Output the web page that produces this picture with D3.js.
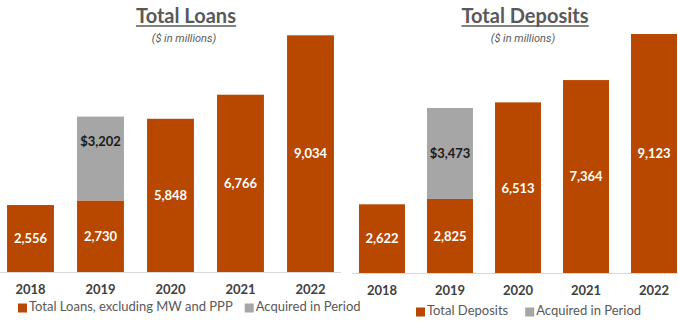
<!DOCTYPE html>
<html>
<head>
<meta charset="utf-8">
<script src="https://cdn.jsdelivr.net/npm/d3@7/dist/d3.min.js"></script>
<style>
  html, body { margin: 0; padding: 0; background: #ffffff; }
  svg { display: block; }
</style>
</head>
<body>
<svg id="chart" width="678" height="322"></svg>
<script>
// Years shown on both panels
const years = ["2018", "2019", "2020", "2021", "2022"];

// Total loans, excluding MW and PPP ($ in millions)
const loansBase = [2556, 2730, 5848, 6766, 9034];
// Loans acquired in period
const loansAcquired = [0, 3202, 0, 0, 0];

// Total deposits ($ in millions)
const depositsBase = [2622, 2825, 6513, 7364, 9123];
// Deposits acquired in period
const depositsAcquired = [0, 3473, 0, 0, 0];

const legendLoans = ["Total Loans, excluding MW and PPP", "Acquired in Period"];
const legendDeposits = ["Total Deposits", "Acquired in Period"];

const ORANGE = "#B84700";
const GRAY = "#A6A6A6";
const TEXT = "#595959";
const FONT = "Lato, 'Open Sans', sans-serif";

const svg = d3.select("#chart");

const panels = [
  {
    title: "Total Loans", titleX: 186,
    base: loansBase, acquired: loansAcquired, legend: legendLoans,
    xRange: [-4.5, 345.5], pad: 0.33, baseline: 272, top: 10,
    axis: [0, 341], legendX: 18, legendGap: 12, legendY: 308, labelY: 291,
    acquiredLabelShift: -17
  },
  {
    title: "Total Deposits", titleX: 525,
    base: depositsBase, acquired: depositsAcquired, legend: legendDeposits,
    xRange: [348, 688], pad: 0.324, baseline: 273, top: 11,
    axis: [352, 678], legendX: 416, legendGap: 17, legendY: 312, labelY: 292,
    acquiredLabelShift: 0
  }
];

const fmt = d3.format(",");

panels.forEach(p => {
  const g = svg.append("g");

  const x = d3.scaleBand()
    .domain(years)
    .range(p.xRange)
    .paddingInner(p.pad)
    .paddingOuter(p.pad / 2);

  const y = d3.scaleLinear()
    .domain([0, 10000])
    .range([p.baseline, p.top]);

  // Title with underline
  const title = g.append("text")
    .attr("x", p.titleX)
    .attr("y", 23)
    .attr("text-anchor", "middle")
    .attr("font-family", FONT)
    .attr("font-weight", 700)
    .attr("font-size", 20)
    .attr("fill", TEXT)
    .text(p.title);
  const tb = title.node().getBBox();
  g.append("line")
    .attr("x1", tb.x).attr("x2", tb.x + tb.width)
    .attr("y1", 26).attr("y2", 26)
    .attr("stroke", TEXT).attr("stroke-width", 1.5);

  g.append("text")
    .attr("x", p.titleX - 2)
    .attr("y", 42)
    .attr("text-anchor", "middle")
    .attr("font-family", "Roboto, sans-serif")
    .attr("font-style", "italic")
    .attr("font-size", 11)
    .attr("fill", TEXT)
    .text("($ in millions)");

  // Baseline
  g.append("line")
    .attr("x1", p.axis[0]).attr("x2", p.axis[1])
    .attr("y1", p.baseline + 0.5).attr("y2", p.baseline + 0.5)
    .attr("stroke", "#D9D9D9").attr("stroke-width", 1);

  const rows = years.map((yr, i) => ({ yr, base: p.base[i], acq: p.acquired[i] }));

  // Base bars
  g.selectAll("rect.base").data(rows).join("rect")
    .attr("class", "base")
    .attr("x", d => x(d.yr))
    .attr("width", x.bandwidth())
    .attr("y", d => y(d.base))
    .attr("height", d => y(0) - y(d.base))
    .attr("fill", ORANGE);

  // Acquired segments stacked on top
  const acqRows = rows.filter(d => d.acq > 0);
  g.selectAll("rect.acq").data(acqRows).join("rect")
    .attr("class", "acq")
    .attr("x", d => x(d.yr))
    .attr("width", x.bandwidth())
    .attr("y", d => y(d.base + d.acq))
    .attr("height", d => y(d.base) - y(d.base + d.acq))
    .attr("fill", GRAY);

  // Value labels
  g.selectAll("text.val").data(rows).join("text")
    .attr("class", "val")
    .attr("x", d => x(d.yr) + x.bandwidth() / 2)
    .attr("y", d => (y(0) + y(d.base)) / 2 + 1.5)
    .attr("text-anchor", "middle")
    .attr("dominant-baseline", "middle")
    .attr("font-family", FONT)
    .attr("font-weight", 700)
    .attr("font-size", 13)
    .attr("fill", "#ffffff")
    .text(d => fmt(d.base));

  g.selectAll("text.acqval").data(acqRows).join("text")
    .attr("class", "acqval")
    .attr("x", d => x(d.yr) + x.bandwidth() / 2)
    .attr("y", d => (y(d.base) + y(d.base + d.acq)) / 2 + 1 + p.acquiredLabelShift)
    .attr("text-anchor", "middle")
    .attr("dominant-baseline", "middle")
    .attr("font-family", FONT)
    .attr("font-weight", 700)
    .attr("font-size", 13)
    .attr("fill", "#1a1a1a")
    .text(d => "$" + fmt(d.acq));

  // Category axis labels
  g.selectAll("text.cat").data(years).join("text")
    .attr("class", "cat")
    .attr("x", d => x(d) + x.bandwidth() / 2)
    .attr("y", p.labelY)
    .attr("text-anchor", "middle")
    .attr("dominant-baseline", "middle")
    .attr("font-family", FONT)
    .attr("font-weight", 700)
    .attr("font-size", 13)
    .attr("fill", "#404040")
    .text(d => d);

  // Legend
  let lx = p.legendX;
  p.legend.forEach((name, i) => {
    g.append("rect")
      .attr("x", lx).attr("y", p.legendY - 4.5)
      .attr("width", 9).attr("height", 9)
      .attr("fill", i === 0 ? ORANGE : GRAY);
    const t = g.append("text")
      .attr("x", lx + 11)
      .attr("y", p.legendY)
      .attr("dominant-baseline", "middle")
      .attr("font-family", FONT)
      .attr("font-size", 13)
      .attr("fill", TEXT)
      .text(name);
    lx += 11 + t.node().getComputedTextLength() + p.legendGap;
  });
});
</script>
</body>
</html>
